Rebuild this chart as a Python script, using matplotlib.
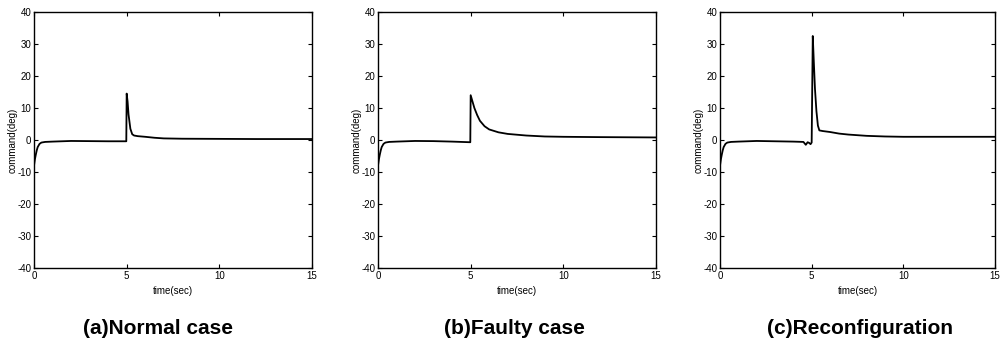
import matplotlib
matplotlib.use('Agg')
import matplotlib.pyplot as plt

plt.rcParams['font.family'] = ['Liberation Sans Narrow', 'Liberation Sans', 'DejaVu Sans']
plt.rcParams['axes.unicode_minus'] = False

# 데이터
t_a = [0.0, 0.05, 0.1, 0.15, 0.2, 0.3, 0.4, 0.6, 1.0, 2.0, 3.0, 4.0, 4.98, 5.0, 5.05, 5.1, 5.2, 5.3, 5.4, 5.6, 6.0, 6.5, 7.0, 8.0, 10.0, 12.0, 15.0]
y_a = [-8.0, -6.0, -4.5, -3.2, -2.2, -1.2, -0.8, -0.6, -0.5, -0.3, -0.35, -0.4, -0.4, 14.5, 12.0, 8.0, 3.5, 1.8, 1.4, 1.2, 1.0, 0.7, 0.5, 0.4, 0.35, 0.3, 0.3]

t_b = [0.0, 0.05, 0.1, 0.15, 0.2, 0.3, 0.4, 0.6, 1.0, 2.0, 3.0, 4.0, 4.98, 5.0, 5.1, 5.2, 5.35, 5.5, 5.75, 6.0, 6.5, 7.0, 8.0, 9.0, 10.0, 12.0, 15.0]
y_b = [-8.0, -6.0, -4.5, -3.2, -2.2, -1.2, -0.8, -0.6, -0.5, -0.3, -0.35, -0.5, -0.7, 14.0, 12.0, 10.0, 7.8, 6.0, 4.3, 3.3, 2.4, 1.9, 1.4, 1.1, 1.0, 0.9, 0.8]

t_c = [0.0, 0.05, 0.1, 0.15, 0.2, 0.3, 0.4, 0.6, 1.0, 2.0, 3.0, 4.0, 4.55, 4.68, 4.78, 4.86, 4.94, 5.0, 5.06, 5.12, 5.18, 5.26, 5.34, 5.42, 5.6, 6.0, 6.5, 7.0, 8.0, 9.0, 10.0, 12.0, 15.0]
y_c = [-8.0, -6.0, -4.5, -3.2, -2.2, -1.2, -0.8, -0.6, -0.5, -0.3, -0.4, -0.5, -0.6, -1.5, -0.7, -0.9, -1.3, -0.8, 32.5, 24.0, 16.0, 9.0, 4.5, 3.0, 2.8, 2.5, 2.0, 1.7, 1.3, 1.1, 1.0, 1.0, 1.0]

captions = ['(a)Normal case', '(b)Faulty case', '(c)Reconfiguration']
x_ticks = [0, 5, 10, 15]
y_ticks = [-40, -30, -20, -10, 0, 10, 20, 30, 40]

W, H = 1001, 345
fig = plt.figure(figsize=(W / 100, H / 100), dpi=100)

# 축 위치 (픽셀)
boxes = [(34, 312), (378, 656), (720, 995)]
top, bottom = 12, 268
cap_x = [158, 514, 860]

series = [(t_a, y_a), (t_b, y_b), (t_c, y_c)]
for i, (l, r) in enumerate(boxes):
    ax = fig.add_axes([l / W, 1 - bottom / H, (r - l) / W, (bottom - top) / H])
    t, y = series[i]
    ax.plot(t, y, color='black', lw=1.3)
    ax.set_xlim(0, 15)
    ax.set_ylim(-40, 40)
    ax.set_xticks(x_ticks)
    ax.set_yticks(y_ticks)
    ax.tick_params(direction='in', length=3, width=0.8, labelsize=7, top=True, right=True, pad=2)
    for s in ax.spines.values():
        s.set_linewidth(1.0)
    ax.set_xlabel('time(sec)', fontsize=7, labelpad=4)
    ax.set_ylabel('command(deg)', fontsize=7, labelpad=0)
    fig.text(cap_x[i] / W, 1 - 328 / H, captions[i], fontsize=15, fontweight='bold',
             ha='center', va='center')

fig.savefig('out.png', dpi=100)
